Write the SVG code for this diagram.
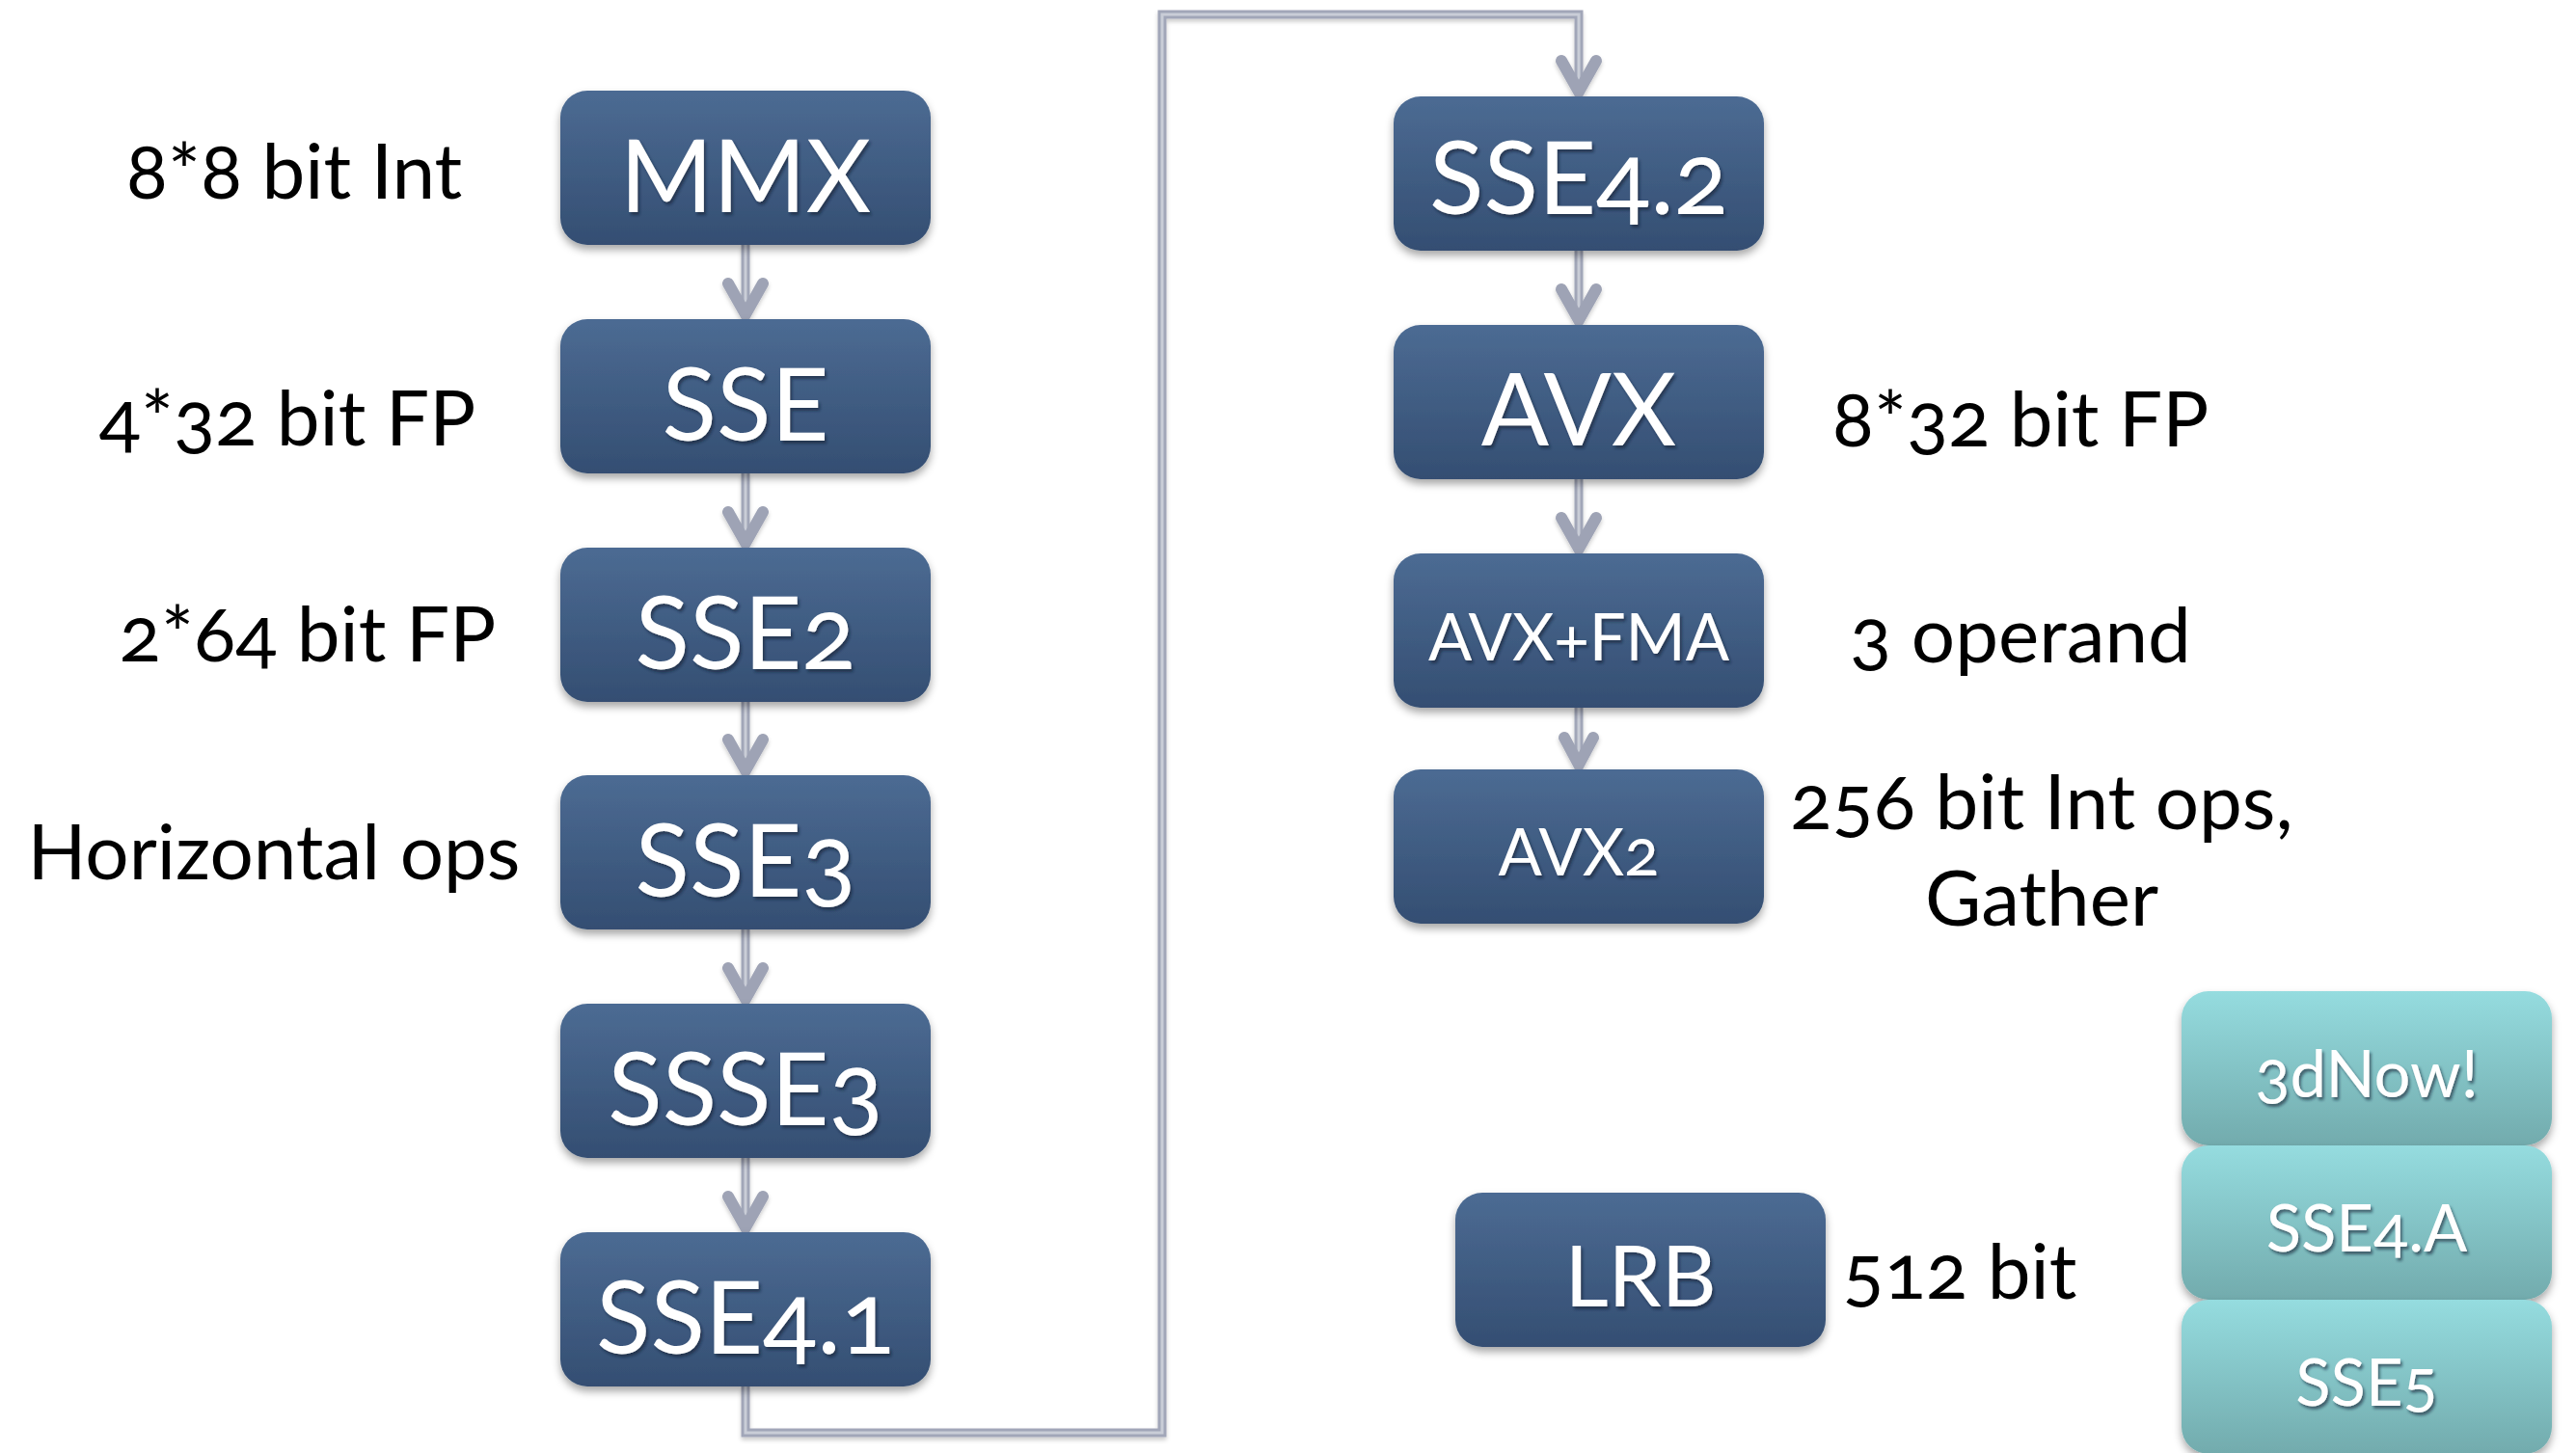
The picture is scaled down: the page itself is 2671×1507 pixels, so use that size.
<svg xmlns="http://www.w3.org/2000/svg" width="2671" height="1507" viewBox="0 0 2671 1507">
<defs>
  <linearGradient id="gBlue" x1="0" y1="0" x2="0" y2="1">
    <stop offset="0" stop-color="#4C6B93"/>
    <stop offset="1" stop-color="#344E72"/>
  </linearGradient>
  <linearGradient id="gTeal" x1="0" y1="0" x2="0" y2="1">
    <stop offset="0" stop-color="#95DCDF"/>
    <stop offset="1" stop-color="#72ABAD"/>
  </linearGradient>
  <filter id="boxShadow" x="-10%" y="-10%" width="120%" height="130%">
    <feDropShadow dx="0" dy="5" stdDeviation="4" flood-color="#000" flood-opacity="0.35"/>
  </filter>
  <filter id="txtShadow" x="-10%" y="-10%" width="120%" height="130%">
    <feDropShadow dx="2" dy="3" stdDeviation="1.5" flood-color="#0A1A30" flood-opacity="0.6"/>
  </filter>
  <filter id="lineShadow" x="-10%" y="-10%" width="120%" height="120%">
    <feDropShadow dx="0" dy="3" stdDeviation="2" flood-color="#000" flood-opacity="0.2"/>
  </filter>
</defs>
<style>
  .box { fill: url(#gBlue); filter: url(#boxShadow); }
  .tbox { fill: url(#gTeal); filter: url(#boxShadow); }
  .bt { font-family: Lato, "Noto Sans", sans-serif; fill: #FFFFFF; text-anchor: middle; filter: url(#txtShadow); font-variant-numeric: oldstyle-nums; }
  .big { font-size: 104px; }
  .mid { font-size: 67px; }
  .lrb { font-size: 88px; }
  .lab { font-family: Lato, "Noto Sans", sans-serif; fill: #000000; font-size: 80px; font-variant-numeric: oldstyle-nums; }
  .shaft { fill: none; stroke: #A1A6B8; stroke-width: 9; }
  .shaftIn { fill: none; stroke: #C9CDD7; stroke-width: 3; }
  .head { fill: none; stroke: #9EA3B5; stroke-width: 12; stroke-linecap: round; stroke-linejoin: miter; }
</style>
<rect width="2671" height="1507" fill="#FFFFFF"/>

<g id="connectors" filter="url(#lineShadow)">
  <g id="c-mmx-sse"><path class="shaft" d="M773 254V328"/><path class="shaftIn" d="M773 254V320"/><path class="head" d="M755 294L773 326L791 294"/></g>
  <g id="c-sse-sse2"><path class="shaft" d="M773 491V565"/><path class="shaftIn" d="M773 491V557"/><path class="head" d="M755 531L773 563L791 531"/></g>
  <g id="c-sse2-sse3"><path class="shaft" d="M773 728V801"/><path class="shaftIn" d="M773 728V793"/><path class="head" d="M755 767L773 799L791 767"/></g>
  <g id="c-sse3-ssse3"><path class="shaft" d="M773 964V1038"/><path class="shaftIn" d="M773 964V1030"/><path class="head" d="M755 1004L773 1036L791 1004"/></g>
  <g id="c-ssse3-sse41"><path class="shaft" d="M773 1201V1275"/><path class="shaftIn" d="M773 1201V1267"/><path class="head" d="M755 1241L773 1273L791 1241"/></g>
  <g id="c-sse41-sse42"><path class="shaft" d="M773 1438V1486H1205V15H1637V97"/><path class="shaftIn" d="M773 1438V1486H1205V15H1637V90"/><path class="head" d="M1619 63L1637 95L1655 63"/></g>
  <g id="c-sse42-avx"><path class="shaft" d="M1637 260V334"/><path class="shaftIn" d="M1637 260V326"/><path class="head" d="M1619 300L1637 332L1655 300"/></g>
  <g id="c-avx-fma"><path class="shaft" d="M1637 497V571"/><path class="shaftIn" d="M1637 497V563"/><path class="head" d="M1619 537L1637 569L1655 537"/></g>
  <g id="c-fma-avx2"><path class="shaft" d="M1637 734V795"/><path class="shaftIn" d="M1637 734V787"/><path class="head" d="M1622 765L1637 793L1652 765"/></g>
</g>

<g id="node-mmx"><rect class="box" x="581" y="94" width="384" height="160" rx="28"/><text class="bt big" x="773" y="220">MMX</text></g>
<g id="node-sse"><rect class="box" x="581" y="331" width="384" height="160" rx="28"/><text class="bt big" x="773" y="457">SSE</text></g>
<g id="node-sse2"><rect class="box" x="581" y="568" width="384" height="160" rx="28"/><text class="bt big" x="773" y="694">SSE2</text></g>
<g id="node-sse3"><rect class="box" x="581" y="804" width="384" height="160" rx="28"/><text class="bt big" x="773" y="930">SSE3</text></g>
<g id="node-ssse3"><rect class="box" x="581" y="1041" width="384" height="160" rx="28"/><text class="bt big" x="773" y="1167">SSSE3</text></g>
<g id="node-sse41"><rect class="box" x="581" y="1278" width="384" height="160" rx="28"/><text class="bt big" x="773" y="1404">SSE4.1</text></g>

<g id="node-sse42"><rect class="box" x="1445" y="100" width="384" height="160" rx="28"/><text class="bt big" x="1637" y="222">SSE4.2</text></g>
<g id="node-avx"><rect class="box" x="1445" y="337" width="384" height="160" rx="28"/><text class="bt big" x="1637" y="462">AVX</text></g>
<g id="node-avxfma"><rect class="box" x="1445" y="574" width="384" height="160" rx="28"/><text class="bt mid" x="1637" y="685">AVX+FMA</text></g>
<g id="node-avx2"><rect class="box" x="1445" y="798" width="384" height="160" rx="28"/><text class="bt mid" x="1637" y="908">AVX2</text></g>

<g id="node-lrb"><rect class="box" x="1509" y="1237" width="384" height="160" rx="28"/><text class="bt lrb" x="1701" y="1355">LRB</text></g>

<g id="node-3dnow"><rect class="tbox" x="2262" y="1028" width="384" height="160" rx="28"/><text class="bt mid" x="2454" y="1138">3dNow!</text></g>
<g id="node-sse4a"><rect class="tbox" x="2262" y="1188" width="384" height="160" rx="28"/><text class="bt mid" x="2454" y="1298">SSE4.A</text></g>
<g id="node-sse5"><rect class="tbox" x="2262" y="1348" width="384" height="160" rx="28"/><text class="bt mid" x="2454" y="1458">SSE5</text></g>

<g id="labels">
  <text class="lab" x="305" y="206" text-anchor="middle">8*8 bit Int</text>
  <text class="lab" x="298" y="462" text-anchor="middle">4*32 bit FP</text>
  <text class="lab" x="319" y="686" text-anchor="middle">2*64 bit FP</text>
  <text class="lab" x="284" y="912" text-anchor="middle">Horizontal ops</text>
  <text class="lab" x="2095" y="463" text-anchor="middle">8*32 bit FP</text>
  <text class="lab" x="2095" y="687" text-anchor="middle">3 operand</text>
  <text class="lab" x="2117" y="860" text-anchor="middle">256 bit Int ops,</text>
  <text class="lab" x="2117" y="960" text-anchor="middle">Gather</text>
  <text class="lab" x="2032" y="1347" text-anchor="middle">512 bit</text>
</g>
</svg>
